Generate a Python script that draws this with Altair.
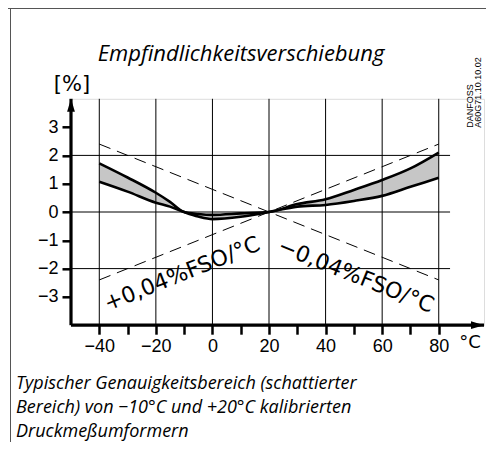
import altair as alt
import pandas as pd

# ---- data ----
temps = [-40, -30, -20, -15, -10, -5, 0, 10, 20, 30, 40, 50, 60, 70, 80]
upper = [1.72, 1.22, 0.68, 0.36, 0.0, -0.07, -0.10, -0.05, 0.0, 0.28, 0.45, 0.78, 1.13, 1.54, 2.10]
lower = [1.07, 0.72, 0.33, 0.19, 0.0, -0.16, -0.25, -0.17, 0.0, 0.19, 0.25, 0.39, 0.57, 0.89, 1.21]

dash_x = [-40, 80]
rise_y = [-2.4, 2.4]
fall_y = [2.4, -2.4]

vgrid = [-40, -20, 0, 20, 40, 60, 80]
hgrid = [2, 0, -2]
hgrid_end = 84
x_ticks = [-40, -30, -20, -10, 0, 10, 20, 30, 40, 50, 60, 70, 80]
y_ticks = [-3, -2, -1, 0, 1, 2, 3]
x_domain = [-50, 96]
y_domain = [-4, 4]

title_text = "Empfindlichkeitsverschiebung"
unit_y = "[%]"
unit_x = "°C"
label_plus = "+0,04%FSO/°C"
label_minus = "−0,04%FSO/°C"
code_lines = ["DANFOSS", "A60G71.10.10.02"]
caption = [
    "Typischer Genauigkeitsbereich (schattierter",
    "Bereich) von −10°C  und +20°C kalibrierten",
    "Druckmeßumformern",
]

# ---- layout ----
W, H = 413, 226.4
PAD = {"left": 63, "top": 90.8, "right": 2, "bottom": 116.8}
NUM_FONT = "Liberation Sans"
TECH_FONT = "DejaVu Sans"
IT_FONT = "Open Sans"

band = pd.DataFrame({"t": temps, "hi": upper, "lo": lower})
dashes = pd.DataFrame({"t": dash_x, "rise": rise_y, "fall": fall_y})
vg = pd.DataFrame({"t": vgrid})
hg = pd.DataFrame({"v": hgrid, "x0": [x_domain[0]] * len(hgrid), "x1": [hgrid_end] * len(hgrid)})
axes_df = pd.DataFrame({"x0": [x_domain[0]], "x1": [x_domain[1]], "y0": [y_domain[0]], "y1": [y_domain[1]]})

xs = alt.Scale(domain=x_domain, nice=False, zero=False)
ys = alt.Scale(domain=y_domain, nice=False, zero=False)

x_axis = alt.Axis(values=x_ticks, labelExpr="datum.value % 20 == 0 ? datum.label : ''",
                  tickSize=9, tickWidth=2.5, tickColor="black", domain=False, grid=False,
                  labelFont=NUM_FONT, labelFontSize=18, labelColor="black", labelPadding=3,
                  title=None, labelFlush=False, labelOverlap=False)
y_axis = alt.Axis(values=y_ticks, tickSize=9, tickWidth=2.5, tickColor="black", domain=False,
                  grid=False, labelFont=NUM_FONT, labelFontSize=18, labelColor="black",
                  labelPadding=4, title=None, labelFlush=False, labelOverlap=False)

def X(f):
    return alt.X(f, type="quantitative", scale=xs, axis=x_axis)

def Y(f):
    return alt.Y(f, type="quantitative", scale=ys, axis=y_axis)

area = alt.Chart(band).mark_area(color="#c6c6c6", interpolate="monotone").encode(
    x=X("t"), y=Y("lo"), y2="hi")
line_hi = alt.Chart(band).mark_line(color="black", strokeWidth=2.6, interpolate="monotone").encode(
    x=X("t"), y=Y("hi"))
line_lo = alt.Chart(band).mark_line(color="black", strokeWidth=2.6, interpolate="monotone").encode(
    x=X("t"), y=Y("lo"))

vgrid_l = alt.Chart(vg).mark_rule(color="black", strokeWidth=1).encode(
    x=X("t"), y=alt.value(0), y2=alt.value(H))
hgrid_l = alt.Chart(hg).mark_rule(color="black", strokeWidth=1).encode(
    y=Y("v"), x=X("x0"), x2="x1")

dash_rise = alt.Chart(dashes).mark_line(color="black", strokeWidth=1, strokeDash=[12, 7]).encode(
    x=X("t"), y=Y("rise"))
dash_fall = alt.Chart(dashes).mark_line(color="black", strokeWidth=1, strokeDash=[12, 7]).encode(
    x=X("t"), y=Y("fall"))

yaxis_line = alt.Chart(axes_df).mark_rule(color="black", strokeWidth=3.2).encode(
    x=X("x0"), y=Y("y0"), y2=alt.Y2("y1"))
xaxis_line = alt.Chart(axes_df).mark_rule(color="black", strokeWidth=3.2).encode(
    y=Y("y0"), x=X("x0"), x2=alt.X2("x1"))
arrow_up = alt.Chart(axes_df).mark_point(
    shape="M 0 -1 L 0.6 1 L -0.6 1 Z", size=169, filled=True, color="black", opacity=1, yOffset=6.5
).encode(x=X("x0"), y=Y("y1"))
arrow_right = alt.Chart(axes_df).mark_point(
    shape="M 1 0 L -1 -0.6 L -1 0.6 Z", size=169, filled=True, color="black", opacity=1, xOffset=-6.5
).encode(x=X("x1"), y=Y("y0"))

def txt(text, x, y, **kw):
    return alt.Chart(axes_df).mark_text(text=text, color="black", **kw).encode(
        x=alt.value(x), y=alt.value(y))

t_title = txt(title_text, 170, -37.8, font=IT_FONT, fontStyle="italic", fontSize=22, align="center", baseline="alphabetic")
t_unit_y = txt(unit_y, 1, -8, font=TECH_FONT, fontSize=21, align="center", baseline="alphabetic")
t_unit_x = txt(unit_x, 399, 244, font=TECH_FONT, fontSize=18, align="center", baseline="middle")
t_plus = txt(label_plus, 111, 175, font=TECH_FONT, fontSize=22, align="center", baseline="middle", angle=338.2)
t_minus = txt(label_minus, 285, 177, font=TECH_FONT, fontSize=22, align="center", baseline="middle", angle=21.8)
t_code1 = txt(code_lines[0], 402, 29, font=NUM_FONT, fontSize=9, align="left", baseline="alphabetic", angle=270)
t_code2 = txt(code_lines[1], 410, 29, font=NUM_FONT, fontSize=9, align="left", baseline="alphabetic", angle=270)
cap_layers = [
    txt(line, -55, 290 + 24 * i, font=IT_FONT, fontStyle="italic", fontSize=18,
        align="left", baseline="alphabetic")
    for i, line in enumerate(caption)
]

frame_top = alt.Chart(axes_df).mark_rule(color="#555555", strokeWidth=1).encode(
    x=alt.value(-63), x2=alt.value(W + 2), y=alt.value(-90.3))
frame_left = alt.Chart(axes_df).mark_rule(color="#555555", strokeWidth=1).encode(
    x=alt.value(-60.5), y=alt.value(-90.3), y2=alt.value(H + 120))

chart = alt.layer(
    area, vgrid_l, hgrid_l, dash_rise, dash_fall, line_hi, line_lo,
    yaxis_line, xaxis_line, arrow_up, arrow_right,
    t_title, t_unit_y, t_unit_x, t_plus, t_minus, t_code1, t_code2, *cap_layers,
    frame_top, frame_left,
).properties(
    width=W, height=H, padding=PAD, autosize="none"
).configure_view(stroke=None).configure(background="white")

chart.save("out.html", embed_options={"renderer": "svg", "actions": False})
